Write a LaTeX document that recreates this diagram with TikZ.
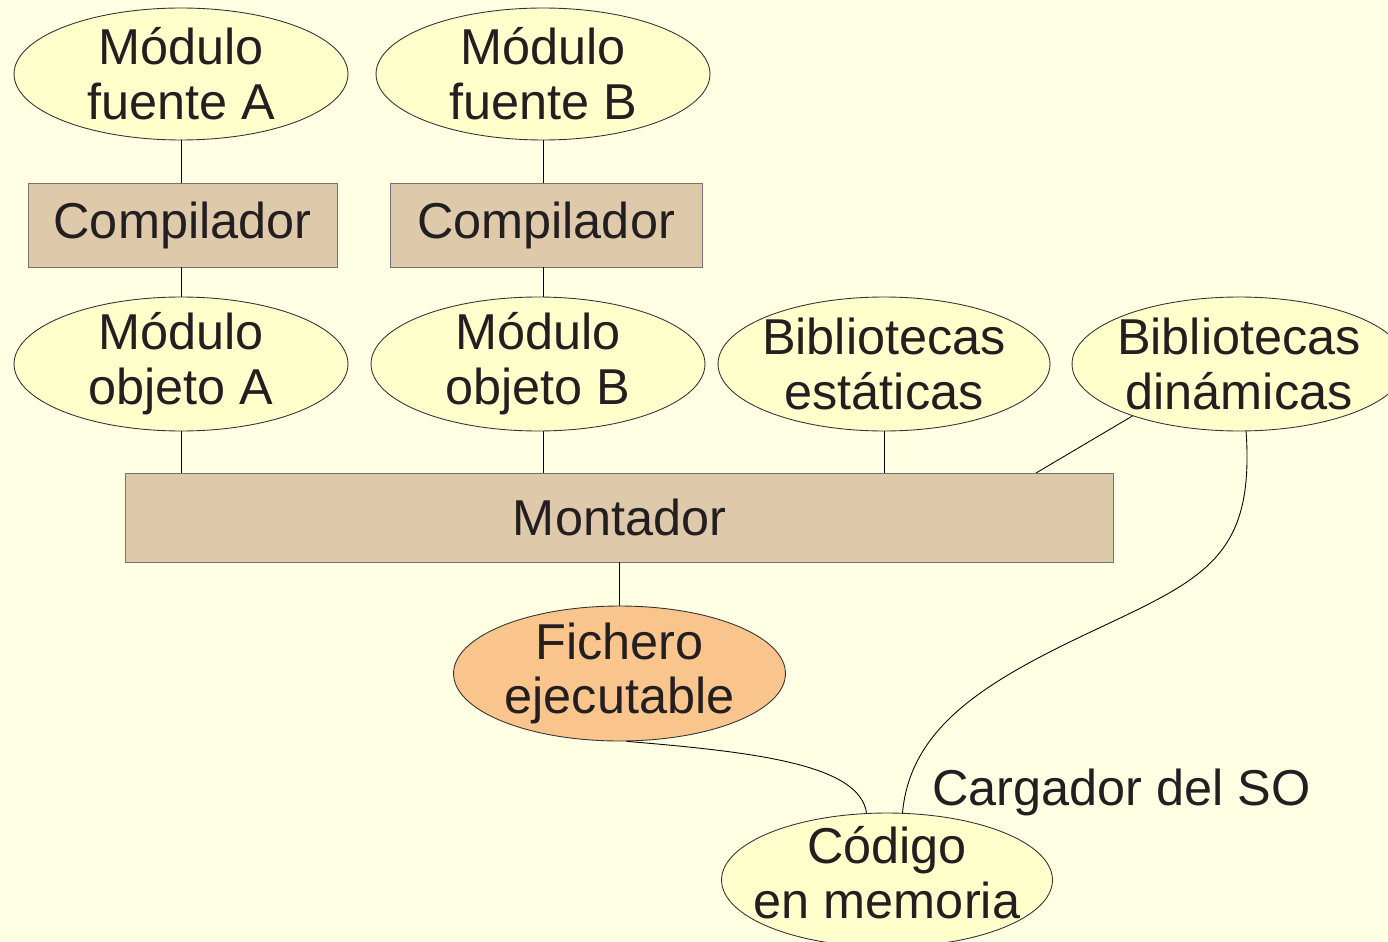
\documentclass[tikz,border=0pt]{standalone}
\usepackage{fontspec}
\setmainfont{Liberation Sans}
\usetikzlibrary{shapes.geometric}

\definecolor{fondo}{RGB}{255,255,228}
\definecolor{crema}{RGB}{255,255,204}
\definecolor{arena}{RGB}{222,201,171}
\definecolor{naranja}{RGB}{250,197,140}
\definecolor{tinta}{RGB}{35,31,32}

\tikzset{
  modulo/.style={ellipse, draw=black!80, fill=crema, inner xsep=-10pt, inner ysep=-6pt,
    minimum width=6.68cm, minimum height=2.68cm, align=center, text=tinta},
  proceso/.style={rectangle, draw=black!55, fill=arena, inner sep=0pt,
    minimum height=1.68cm, text=tinta},
}

\begin{document}
\begin{tikzpicture}[x=0.02cm, y=-0.02cm, line width=0.5pt,
    every node/.append style={font=\fontsize{28.7}{31.2}\selectfont}]
        % fondo
        \useasboundingbox (0,0) rectangle (1388,942);
        \fill[fondo] (0,0) rectangle (1388,942);
        \clip (0,0) rectangle (1388,942);

        % modulos fuente y compiladores
        \node[modulo, minimum height=2.64cm] (fuenteA) at (181,74) {Módulo\\fuente A};
        \node[modulo, minimum height=2.64cm] (fuenteB) at (543,74) {Módulo\\fuente B};
        \node[proceso, minimum width=6.18cm] (compA) at (182.5,225) {Compilador};
        \node[proceso, minimum width=6.24cm] (compB) at (546,225) {Compilador};

        % modulos objeto y bibliotecas
        \node[modulo] (objA) at (181,364) {Módulo\\objeto A};
        \node[modulo] (objB) at (538,364) {Módulo\\objeto B};
        \node[modulo, minimum width=6.64cm] (estat) at (884,364) {Bibliotecas\\estáticas};
        \node[modulo] (dinam) at (1239,364) {Bibliotecas\\dinámicas};

        % montador y resultado
        \node[proceso, minimum width=19.78cm, minimum height=1.78cm] (montador) at (619.5,517.5) {Montador};
        \node[modulo, fill=naranja, minimum width=6.64cm, minimum height=2.7cm] (fich) at (619.5,673.5) {Fichero\\ejecutable};
        \node[modulo, minimum width=6.62cm, text depth=0.3cm] (cod) at (887,880) {Código\\en memoria};
        \node[anchor=base west, text=tinta] (cargador) at (926,805) {Cargador del SO};
        \coordinate (enlace) at (1036,473);

        % conexiones
        \draw (fuenteA.south) -- (fuenteA.south |- compA.north);
        \draw (compA.south -| fuenteA.south) -- (objA.north);
        \draw (objA.south) -- (objA.south |- montador.north);
        \draw (fuenteB.south) -- (fuenteB.south |- compB.north);
        \draw (compB.south -| fuenteB.south) -- (objB.north -| fuenteB.south);
        \draw (objB.south -| fuenteB.south) -- (montador.north -| fuenteB.south);
        \draw (estat.south) -- (estat.south |- montador.north);
        \draw (dinam.206) -- (enlace);
        \draw (montador.south) -- (fich.north);
        \draw (fich.-84) .. controls +(133,11) and +(-7,-48) .. (cod.107);
        \draw (dinam.-84) .. controls +(9,131) and (1200,580) .. (1080,637)
              .. controls (980,685) and (910,730) .. (cod.77);
    \end{tikzpicture}
\end{document}
